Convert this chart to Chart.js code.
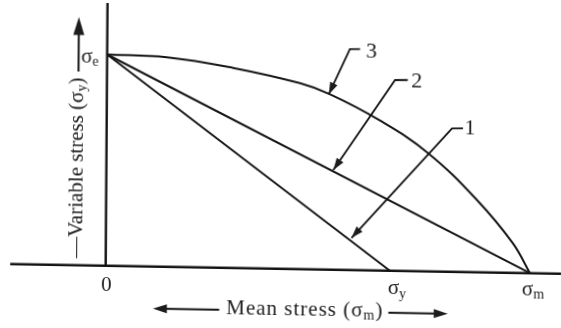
<!DOCTYPE html>
<html><head><meta charset="utf-8">
<script src="https://cdn.jsdelivr.net/npm/chart.js@4/dist/chart.umd.min.js"></script>
<style>
html,body{margin:0;padding:0;background:#fff;overflow:hidden}
#c{display:block;transform-origin:105.7px 265.7px;transform:matrix(1,0.0176,-0.007,1,0,0)}
</style></head><body>
<canvas id="c" width="561" height="328"></canvas>
<script>
// ---- data (normalised: sigma_e = 1 on the variable-stress axis, sigma_m = 1 on the mean-stress axis)
const SIGMA_E = 1.0;
const SIGMA_Y = 0.670;
const SIGMA_M = 1.0;
// 1: Soderberg line (sigma_e -> sigma_y)
const soderbergX = [0, SIGMA_Y];
const soderbergY = [SIGMA_E, 0];
// 2: Goodman line (sigma_e -> sigma_m)
const goodmanX = [0, SIGMA_M];
const goodmanY = [SIGMA_E, 0];
// 3: Gerber curve
const gerberX = [0, 0.141, 0.297, 0.455, 0.526, 0.644, 0.758, 0.874, 0.959, 1.0];
const gerberY = [1.0, 0.992, 0.947, 0.880, 0.830, 0.710, 0.560, 0.342, 0.141, 0];
// tick labels
const tickValues = [0, SIGMA_Y, SIGMA_M];
const tickMain   = ['0', 'σ', 'σ'];
const tickSub    = ['', 'y', 'm'];
const yTickMain = 'σ', yTickSub = 'e';
const curveNames = ['1', '2', '3'];

// ---- layout / style
const INK = '#141414';
const TXT = '#1c1c1c';
const SERIF = '"Liberation Serif", "Times New Roman", serif';
const X_MIN = -0.2491, X_MAX = 1.0731, Y_MIN = -0.295, Y_MAX = 1.258;
const AXIS = {xFrom: -0.225, xTo: 1.12, yTop: 1.244};
const tickPos = [[0.002, -0.092], [0.687, -0.086], [1.0075, -0.0795]];
const yTickPos = [-0.0405, 0.987];
const leaders = [ // label pos, leader polyline ending at arrow tip
  {text:[0.856, 0.681], pts:[[0.840, 0.680], [0.814, 0.679], [0.579, 0.152]]},
  {text:[0.730, 0.897], pts:[[0.709, 0.904], [0.679, 0.903], [0.535, 0.472]]},
  {text:[0.623, 1.035], pts:[[0.596, 1.047], [0.572, 1.046], [0.523, 0.830]]}
];
const XLABEL = {cx: 0.47, y: -0.194, arrowFrom: 0.112, arrowTo: 0.807};
const YLABEL = {x: -0.0695, yStart: 0.034, yTip: 1.175};

function P(chart, x, y) {
  return [chart.scales.x.getPixelForValue(x), chart.scales.y.getPixelForValue(y)];
}
function line(ctx, a, b) { ctx.beginPath(); ctx.moveTo(a[0], a[1]); ctx.lineTo(b[0], b[1]); ctx.stroke(); }
function head(ctx, from, tip, len, wid) {
  const dx = tip[0]-from[0], dy = tip[1]-from[1], d = Math.hypot(dx, dy);
  const ux = dx/d, uy = dy/d, bx = tip[0]-ux*len, by = tip[1]-uy*len;
  ctx.beginPath();
  ctx.moveTo(tip[0], tip[1]);
  ctx.lineTo(bx - uy*wid/2, by + ux*wid/2);
  ctx.lineTo(bx + uy*wid/2, by - ux*wid/2);
  ctx.closePath(); ctx.fill();
}
function segWidth(ctx, segs) {
  let w = 0;
  for (const s of segs) { ctx.font = s.f; w += ctx.measureText(s.t).width; }
  return w;
}
function drawSegs(ctx, segs, x, y) {
  for (const s of segs) { ctx.font = s.f; ctx.fillText(s.t, x, y + (s.dy||0)); x += ctx.measureText(s.t).width; }
}

const figPlugin = {
  id: 'fig',
  beforeDatasetsDraw(chart) {
    const ctx = chart.ctx; ctx.save();
    ctx.strokeStyle = INK; ctx.lineWidth = 2.4;
    line(ctx, P(chart, AXIS.xFrom, 0), P(chart, AXIS.xTo, 0));
    line(ctx, P(chart, 0, -0.006), P(chart, 0, AXIS.yTop));
    ctx.restore();
  },
  afterDatasetsDraw(chart) {
    const ctx = chart.ctx; ctx.save();
    ctx.fillStyle = TXT; ctx.strokeStyle = INK;
    ctx.textBaseline = 'middle';
    const main = '21px ' + SERIF, sub = '14px ' + SERIF;
    // tick labels on mean-stress axis
    tickValues.forEach((v, i) => {
      const p = P(chart, tickPos[i][0], tickPos[i][1]);
      const segs = [{t: tickMain[i], f: main}];
      if (tickSub[i]) segs.push({t: tickSub[i], f: sub, dy: 5});
      const w = segWidth(ctx, segs);
      ctx.textAlign = 'left';
      drawSegs(ctx, segs, p[0] - w/2, p[1]);
    });
    // sigma_e
    {
      const p = P(chart, yTickPos[0], yTickPos[1]);
      const segs = [{t: yTickMain, f: main}, {t: yTickSub, f: sub, dy: 5}];
      const w = segWidth(ctx, segs);
      drawSegs(ctx, segs, p[0] - w/2, p[1]);
    }
    // curve number leaders
    ctx.lineWidth = 1.8;
    leaders.forEach((L, i) => {
      const pts = L.pts.map(q => P(chart, q[0], q[1]));
      ctx.beginPath(); ctx.moveTo(pts[0][0], pts[0][1]);
      for (let k = 1; k < pts.length; k++) ctx.lineTo(pts[k][0], pts[k][1]);
      ctx.stroke();
      head(ctx, pts[pts.length-2], pts[pts.length-1], 12, 8);
      const t = P(chart, L.text[0], L.text[1]);
      ctx.font = '22px ' + SERIF; ctx.textAlign = 'center';
      ctx.fillText(curveNames[i], t[0], t[1]);
    });
    ctx.textAlign = 'left';
    // x label
    {
      ctx.letterSpacing = '1px';
      const segs = [{t: 'Mean stress (σ', f: main}, {t: 'm', f: sub, dy: 5}, {t: ')', f: main}];
      const w = segWidth(ctx, segs);
      const c = P(chart, XLABEL.cx, XLABEL.y);
      const x0 = c[0] - w/2;
      drawSegs(ctx, segs, x0, c[1]);
      ctx.letterSpacing = '0px';
      ctx.lineWidth = 2;
      const a = P(chart, XLABEL.arrowFrom, XLABEL.y), b = P(chart, XLABEL.arrowTo, XLABEL.y);
      const ly = c[1] + 1;
      line(ctx, [x0 - 7, ly], [a[0] + 6, ly]); head(ctx, [x0 - 7, ly], [a[0], ly], 14, 9);
      line(ctx, [x0 + w + 5, ly], [b[0] - 6, ly]); head(ctx, [x0 + w + 5, ly], [b[0], ly], 14, 9);
    }
    // y label (rotated)
    {
      const s = P(chart, YLABEL.x, YLABEL.yStart), tip = P(chart, YLABEL.x, YLABEL.yTip);
      ctx.save();
      ctx.translate(s[0], s[1]); ctx.rotate(-Math.PI/2);
      const segs = [{t: '—Variable stress (σ', f: main}, {t: 'y', f: sub, dy: 5}, {t: ')', f: main}];
      const w = segWidth(ctx, segs);
      drawSegs(ctx, segs, 0, 0);
      const L = s[1] - tip[1];
      ctx.lineWidth = 2;
      line(ctx, [w + 6, 1], [L - 8, 1]); head(ctx, [w + 6, 1], [L, 1], 18, 11);
      ctx.restore();
    }
    ctx.restore();
  }
};

const pts = (xs, ys) => xs.map((x, i) => ({x, y: ys[i]}));
const common = {showLine: true, borderColor: INK, borderWidth: 2, pointRadius: 0, fill: false};
new Chart(document.getElementById('c'), {
  type: 'scatter',
  data: {datasets: [
    Object.assign({label: curveNames[0], data: pts(soderbergX, soderbergY), tension: 0}, common),
    Object.assign({label: curveNames[1], data: pts(goodmanX, goodmanY), tension: 0}, common),
    Object.assign({label: curveNames[2], data: pts(gerberX, gerberY), tension: 0.4}, common)
  ]},
  options: {
    responsive: false, animation: false, devicePixelRatio: 1,
    layout: {padding: 0},
    plugins: {legend: {display: false}, tooltip: {enabled: false}, title: {display: false}},
    scales: {
      x: {type: 'linear', min: X_MIN, max: X_MAX, display: false},
      y: {type: 'linear', min: Y_MIN, max: Y_MAX, display: false}
    }
  },
  plugins: [figPlugin]
});
</script>
</body></html>
